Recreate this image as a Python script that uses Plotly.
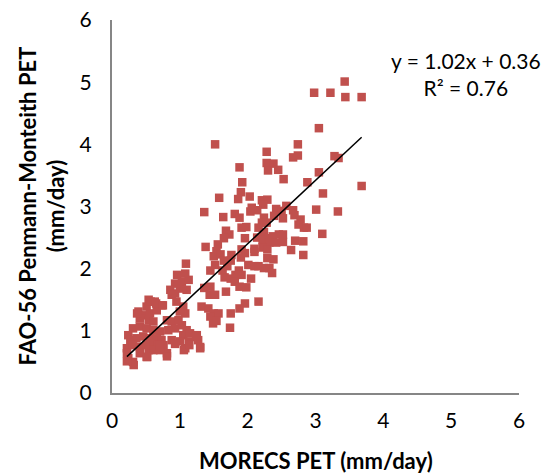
import plotly.graph_objects as go

# MORECS PET (x) and FAO-56 Penman-Monteith PET (y), mm/day
morecs_pet = [
    1.09, 0.96, 1.08, 1.03, 1.13, 0.93, 0.86, 0.93, 1.00, 1.10, 0.88, 0.54, 0.63, 0.73, 0.51, 0.39,
    0.46, 0.56, 0.66, 0.41, 0.54, 0.61, 0.95, 1.05, 1.00, 1.08, 0.81, 0.88, 0.98, 1.03, 0.93, 0.83,
    1.10, 1.05, 1.15, 1.25, 1.27, 1.30, 1.13, 1.08, 1.00, 0.88, 0.81, 0.76, 0.24, 0.31, 0.41, 0.51,
    0.61, 0.71, 0.27, 0.36, 0.46, 0.56, 0.66, 0.73, 0.22, 0.31, 0.41, 0.51, 0.61, 0.68, 0.24, 0.31,
    0.22, 0.41, 0.51, 0.54, 0.61, 0.71,
    0.32, 0.22, 0.52, 0.81, 1.06, 1.30, 1.24, 1.14, 0.93, 0.70, 0.37, 0.57, 0.65, 0.75,
    1.36, 1.58, 1.52, 1.64, 1.88, 1.92, 1.90, 1.86, 2.03, 1.81, 1.88, 1.91, 1.98, 1.68, 1.73, 1.65,
    1.96, 1.38, 1.56, 1.54, 1.50, 1.60, 1.91, 1.76, 1.75, 1.90, 2.01, 2.10, 1.45, 1.52, 1.65, 1.70,
    1.63, 1.66, 1.75, 1.82, 1.87, 1.91, 1.81, 1.88, 1.98, 2.05, 1.68, 1.36, 1.45, 1.44, 1.52, 2.16,
    1.96, 1.88, 1.32, 1.42, 1.50, 1.57, 1.45, 1.49, 1.54, 1.75, 1.74,
    2.28, 2.28, 2.38, 2.30, 2.45, 2.53, 2.67, 2.74, 2.74, 2.88, 2.21, 2.29, 2.23, 2.06, 2.14, 2.04,
    2.42, 2.50, 2.57, 2.39, 2.67, 2.69, 2.52, 2.78, 2.75, 2.83, 2.87, 2.24, 2.21, 2.28, 2.16, 2.24,
    2.14, 2.22, 2.31, 2.37, 2.46, 2.52, 2.32, 2.42, 2.52, 2.70, 2.82, 2.64, 2.82, 2.10, 2.10, 2.22,
    2.29, 2.29, 2.38, 2.16, 2.24, 2.32, 2.36, 1.96,
    2.98, 3.22, 3.43, 3.44, 3.68, 3.05, 3.28, 3.34, 3.05, 3.68, 3.11, 3.01, 3.33, 3.10,
]
fao56_pet = [
    2.08, 1.90, 1.92, 1.79, 1.82, 1.76, 1.66, 1.60, 1.68, 1.66, 1.58, 1.50, 1.47, 1.41, 1.39, 1.31,
    1.25, 1.28, 1.33, 1.20, 1.17, 1.15, 1.47, 1.39, 1.31, 1.28, 1.17, 1.15, 1.17, 1.09, 1.04, 1.01,
    1.01, 0.93, 0.96, 0.93, 0.85, 0.74, 0.83, 0.72, 0.83, 0.85, 0.64, 0.77, 0.93, 1.04, 1.07, 1.04,
    1.01, 0.99, 0.85, 0.88, 0.91, 0.88, 0.88, 0.85, 0.72, 0.77, 0.74, 0.77, 0.80, 0.77, 0.56, 0.50,
    0.64, 0.64, 0.58, 0.69, 0.69, 0.69,
    0.45, 0.51, 0.58, 0.59, 0.69, 0.72, 0.90, 0.77, 0.79, 0.77, 1.28, 1.47, 1.44, 1.41,
    2.91, 3.14, 4.00, 2.83, 3.63, 3.39, 3.23, 3.12, 3.16, 2.88, 2.82, 2.66, 2.67, 2.61, 2.55, 2.49,
    2.49, 2.35, 2.39, 2.28, 2.20, 2.23, 2.31, 2.22, 2.13, 2.18, 2.06, 2.04, 1.97, 2.06, 2.13, 2.04,
    1.97, 1.86, 1.84, 1.90, 1.97, 1.90, 1.79, 1.71, 1.70, 1.84, 1.63, 1.69, 1.71, 1.58, 1.58, 1.47,
    1.44, 1.36, 1.39, 1.36, 1.28, 1.28, 1.23, 1.12, 1.16, 1.28, 1.05,
    3.88, 3.70, 3.69, 3.58, 3.59, 3.44, 3.79, 3.82, 4.00, 3.39, 3.10, 3.11, 3.03, 2.98, 2.94, 2.92,
    2.96, 2.93, 3.01, 2.85, 2.94, 2.86, 2.81, 2.79, 2.71, 2.66, 2.66, 2.82, 2.74, 2.74, 2.66, 2.59,
    2.50, 2.46, 2.49, 2.52, 2.55, 2.55, 2.42, 2.42, 2.43, 2.45, 2.44, 2.30, 2.22, 2.32, 2.27, 2.34,
    2.31, 2.17, 2.15, 2.04, 2.01, 2.01, 1.93, 2.25,
    4.83, 4.83, 5.01, 4.76, 4.76, 4.26, 3.81, 3.78, 3.55, 3.33, 3.21, 2.95, 2.92, 2.56,
]

# Linear trendline reported on the chart
slope = 1.02
intercept = 0.36
r_squared = 0.76

axis_ticks = [0, 1, 2, 3, 4, 5, 6]
x_title = "MORECS PET (mm/day)"
y_title = "FAO-56 Penmann-Monteith PET<br>(mm/day)"

trend_x = [min(morecs_pet), max(morecs_pet)]
trend_y = [slope * v + intercept for v in trend_x]

font_family = "Lato, 'Open Sans', sans-serif"

fig = go.Figure()
fig.add_trace(go.Scatter(
    x=morecs_pet, y=fao56_pet, mode="markers",
    marker=dict(symbol="square", size=8.5, color="#C0504D", line=dict(width=0)),
    showlegend=False,
))
fig.add_trace(go.Scatter(
    x=trend_x, y=trend_y, mode="lines",
    line=dict(color="black", width=1.5), showlegend=False,
))

# trendline equation label
fig.add_annotation(
    x=0.87, xref="paper", y=0.855, yref="paper", xanchor="center", yanchor="middle",
    text=f"y = {slope:.2f}x + {intercept:.2f}<br>R² = {r_squared:.2f}",
    showarrow=False, align="center",
    font=dict(family=font_family, size=21, color="black"),
)
# axis titles
fig.add_annotation(
    x=0.5, xref="paper", y=0, yref="paper", xanchor="center", yanchor="middle",
    yshift=-67, text=f"<b>{x_title}</b>", showarrow=False,
    font=dict(family=font_family, size=22, color="black"),
)
fig.add_annotation(
    x=0, xref="paper", y=0.5, yref="paper", xanchor="center", yanchor="middle",
    xshift=-71, textangle=-90, text=f"<b>{y_title}</b>", showarrow=False,
    font=dict(family=font_family, size=22, color="black"),
)

axis_common = dict(
    range=[0, 6], tickvals=axis_ticks, ticktext=[str(t) for t in axis_ticks],
    showgrid=False, zeroline=False, showline=True, linecolor="#868686", linewidth=2,
    ticks="", tickfont=dict(family=font_family, size=21, color="black"),
    fixedrange=True, automargin=False,
)

fig.update_layout(
    width=550, height=474,
    margin=dict(l=112, r=31, t=20, b=81),
    paper_bgcolor="white", plot_bgcolor="white",
    xaxis=dict(**axis_common, ticklabelstandoff=8),
    yaxis=dict(**axis_common, ticklabelstandoff=14),
)

fig.write_html(
    "out.html",
    config={"displayModeBar": False},
    post_script="document.body.style.margin='0';document.body.style.overflow='hidden';",
)
